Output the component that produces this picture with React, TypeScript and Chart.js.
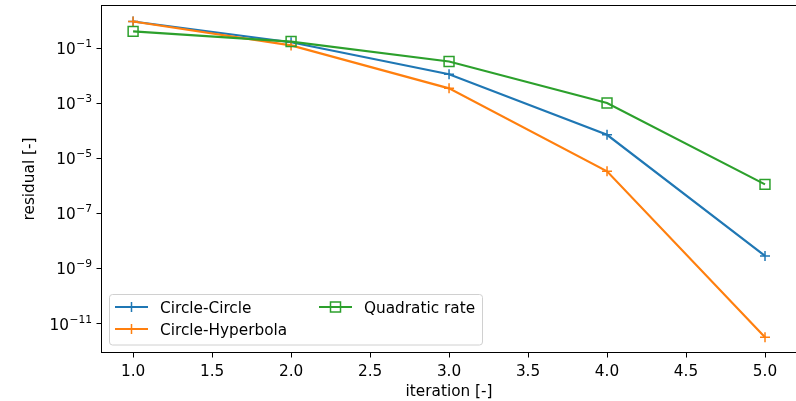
import React, { useEffect, useRef } from "react";
import { Chart, registerables } from "chart.js";

Chart.register(...registerables);

const iterations = [1, 2, 3, 4, 5];
const circleCircle = [0.96, 0.17, 0.0117, 7.4e-5, 2.95e-9];
const circleHyperbola = [0.96, 0.13, 0.0036, 3.5e-6, 3.3e-12];
const quadraticRate = [0.42, 0.18, 0.034, 0.00106, 1.17e-6];
const xTicks = [1.0, 1.5, 2.0, 2.5, 3.0, 3.5, 4.0, 4.5, 5.0];
const yTickExponents = [-1, -3, -5, -7, -9, -11];

const FONT = "'DejaVu Sans', sans-serif";
const FS = 15.3;
const SUPFS = 10.7;

const framePlugin = {
  id: "frame",
  afterDatasetsDraw(chart: any) {
    const { ctx, chartArea } = chart;
    ctx.save();
    ctx.strokeStyle = "#000";
    ctx.lineWidth = 1;
    ctx.strokeRect(chartArea.left, chartArea.top, chartArea.right - chartArea.left, chartArea.bottom - chartArea.top);
    ctx.restore();
  },
};

// matplotlib-style "10^{n}" tick labels on the log axis
const logLabelPlugin = {
  id: "logLabels",
  afterDraw(chart: any) {
    const { ctx } = chart;
    const y = chart.scales.y;
    const right = y.right - 5 - 5;
    ctx.save();
    ctx.fillStyle = "#000";
    ctx.textBaseline = "alphabetic";
    ctx.textAlign = "left";
    y.ticks.forEach((t: any) => {
      const e = Math.round(Math.log10(t.value));
      const exp = (e < 0 ? "\u2212" : "") + String(Math.abs(e));
      ctx.font = `${SUPFS}px ${FONT}`;
      const we = ctx.measureText(exp).width;
      ctx.font = `${FS}px ${FONT}`;
      const wb = ctx.measureText("10").width;
      const py = y.getPixelForValue(t.value);
      const base = py + 5.6;
      const x0 = right - we - wb;
      ctx.font = `${FS}px ${FONT}`;
      ctx.fillText("10", x0, base);
      ctx.font = `${SUPFS}px ${FONT}`;
      ctx.fillText(exp, x0 + wb + 0.5, base - 7);
    });
    ctx.restore();
  },
};

const legendPlugin = {
  id: "mplLegend",
  afterDraw(chart: any) {
    const { ctx } = chart;
    const bx = 109.5, by = 294.5, bw = 373, bh = 50.5, r = 3;
    ctx.save();
    ctx.beginPath();
    ctx.moveTo(bx + r, by);
    ctx.lineTo(bx + bw - r, by);
    ctx.arcTo(bx + bw, by, bx + bw, by + r, r);
    ctx.lineTo(bx + bw, by + bh - r);
    ctx.arcTo(bx + bw, by + bh, bx + bw - r, by + bh, r);
    ctx.lineTo(bx + r, by + bh);
    ctx.arcTo(bx, by + bh, bx, by + bh - r, r);
    ctx.lineTo(bx, by + r);
    ctx.arcTo(bx, by, bx + r, by, r);
    ctx.closePath();
    ctx.fillStyle = "rgba(255,255,255,0.8)";
    ctx.fill();
    ctx.strokeStyle = "#d0d0d0";
    ctx.lineWidth = 1;
    ctx.stroke();

    const slots = [
      { x0: 115, x1: 148, tx: 160, y: 307 },
      { x0: 115, x1: 148, tx: 160, y: 329 },
      { x0: 319, x1: 352, tx: 364, y: 307 },
    ];
    chart.data.datasets.forEach((ds: any, i: number) => {
      const s = slots[i];
      if (!s) return;
      ctx.strokeStyle = ds.borderColor;
      ctx.lineWidth = 2.2;
      ctx.beginPath();
      ctx.moveTo(s.x0, s.y);
      ctx.lineTo(s.x1, s.y);
      ctx.stroke();
      const cx = (s.x0 + s.x1) / 2;
      ctx.lineWidth = 1.5;
      if (ds.pointStyle === "cross") {
        ctx.beginPath();
        ctx.moveTo(cx - 5, s.y);
        ctx.lineTo(cx + 5, s.y);
        ctx.moveTo(cx, s.y - 5);
        ctx.lineTo(cx, s.y + 5);
        ctx.stroke();
      } else {
        ctx.strokeRect(cx - 5, s.y - 5, 10, 10);
      }
      ctx.fillStyle = "#000";
      ctx.font = `${FS}px ${FONT}`;
      ctx.textAlign = "left";
      ctx.textBaseline = "alphabetic";
      ctx.fillText(ds.label, s.tx, s.y + 5.5);
    });
    ctx.restore();
  },
};

export default function App() {
  const ref = useRef<HTMLCanvasElement>(null);

  useEffect(() => {
    if (!ref.current) return;
    document.body.style.overflow = "hidden";
    const mk = (v: number[]) => iterations.map((x, i) => ({ x, y: v[i] }));
    const chart = new Chart(ref.current, {
      type: "line",
      data: {
        datasets: [
          {
            label: "Circle-Circle",
            data: mk(circleCircle),
            borderColor: "#1f77b4",
            backgroundColor: "#1f77b4",
            pointBorderColor: "#1f77b4",
            borderWidth: 2.2,
            pointStyle: "cross",
            pointRadius: 5,
            pointBorderWidth: 1.5,
            order: 3,
          },
          {
            label: "Circle-Hyperbola",
            data: mk(circleHyperbola),
            borderColor: "#ff7f0e",
            backgroundColor: "#ff7f0e",
            pointBorderColor: "#ff7f0e",
            borderWidth: 2.2,
            pointStyle: "cross",
            pointRadius: 5,
            pointBorderWidth: 1.5,
            order: 2,
          },
          {
            label: "Quadratic rate",
            data: mk(quadraticRate),
            borderColor: "#2ca02c",
            backgroundColor: "rgba(0,0,0,0)",
            pointBackgroundColor: "rgba(0,0,0,0)",
            pointBorderColor: "#2ca02c",
            borderWidth: 2.2,
            pointStyle: "rect",
            pointRadius: 7,
            pointBorderWidth: 1.5,
            order: 1,
          },
        ],
      },
      options: {
        responsive: false,
        animation: false,
        devicePixelRatio: 1,
        clip: false,
        layout: { autoPadding: false, padding: { left: 0, top: 5.5, right: 3.4, bottom: 0 } },
        plugins: { legend: { display: false }, tooltip: { enabled: false } },
        events: [],
        scales: {
          x: {
            type: "linear",
            min: 0.8,
            max: 5.2,
            afterBuildTicks: (s: any) => {
              s.ticks = xTicks.map((v) => ({ value: v }));
            },
            afterFit: (s: any) => {
              s.height = 48.5;
              s.paddingLeft = 0;
              s.paddingRight = 0;
            },
            grid: { drawOnChartArea: false, drawTicks: true, tickLength: 5, color: "#000", tickWidth: 1 },
            border: { display: false },
            ticks: {
              autoSkip: false,
              maxRotation: 0,
              padding: 5,
              color: "#000",
              font: { family: FONT, size: FS },
              callback: (v: any) => Number(v).toFixed(1),
            },
            title: {
              display: true,
              text: "iteration [-]",
              color: "#000",
              font: { family: FONT, size: FS },
              padding: { top: 0, bottom: 0 },
            },
          },
          y: {
            type: "logarithmic",
            min: Math.pow(10, -12.036),
            max: Math.pow(10, 0.564),
            afterBuildTicks: (s: any) => {
              s.ticks = yTickExponents.map((e) => ({ value: Math.pow(10, e) }));
            },
            afterFit: (s: any) => {
              s.width = 101.5;
              s.paddingTop = 0;
              s.paddingBottom = 0;
            },
            grid: { drawOnChartArea: false, drawTicks: true, tickLength: 5, color: "#000", tickWidth: 1 },
            border: { display: false },
            ticks: {
              display: false,
              autoSkip: false,
              callback: (v: any) => "10^" + Math.round(Math.log10(Number(v))),
            },
            title: {
              display: true,
              text: "residual [-]",
              color: "#000",
              font: { family: FONT, size: FS },
              padding: { top: 21, bottom: 0 },
            },
          },
        },
      },
      plugins: [framePlugin, logLabelPlugin, legendPlugin],
    } as any);
    return () => chart.destroy();
  }, []);

  return (
    <div style={{ position: "fixed", left: 0, top: 0, width: 800, height: 401, overflow: "hidden", background: "#fff" }}>
      <canvas ref={ref} width={800} height={401} style={{ display: "block", width: 800, height: 401 }} />
    </div>
  );
}
